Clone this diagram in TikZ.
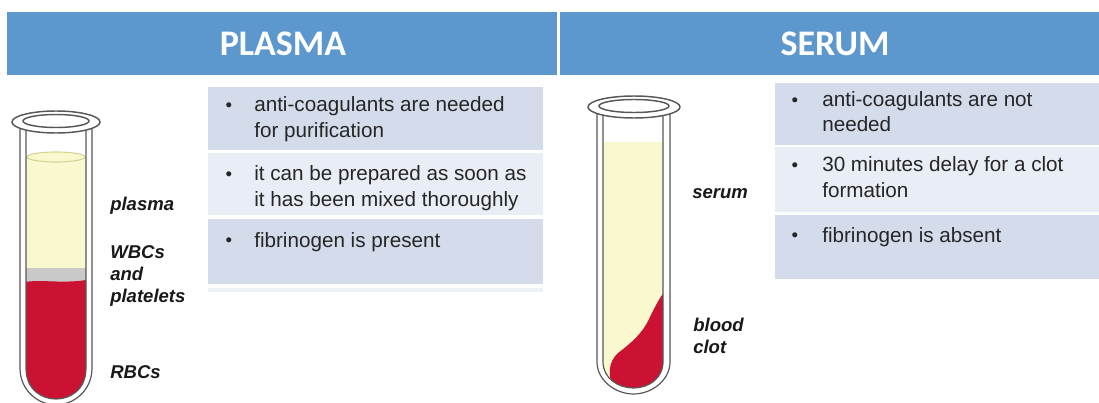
\documentclass[tikz,border=0pt]{standalone}
\usepackage{fontspec}
\setmainfont{Liberation Sans}
\newfontfamily\headfont{Carlito}
\usetikzlibrary{positioning}
\definecolor{headblue}{RGB}{92,151,205}
\definecolor{rowdark}{RGB}{212,220,236}
\definecolor{rowlight}{RGB}{233,237,245}
\definecolor{rowrule}{RGB}{238,241,247}
\definecolor{plasmacol}{RGB}{250,248,207}
\definecolor{meniscus}{RGB}{214,210,150}
\definecolor{bloodcol}{RGB}{203,18,50}
\definecolor{bandcol}{RGB}{201,201,201}
\definecolor{glasscol}{RGB}{88,88,88}
\tikzset{
headbar/.style = {fill=headblue, anchor=north west, inner sep=0pt, minimum height=47.25pt},
headtext/.style = {white, font=\headfont\bfseries\fontsize{27}{30}\selectfont},
rowbox/.style = {anchor=north west, inner sep=0pt},% fond d'une ligne
rowd/.style = {rowbox, fill=rowdark},
rowl/.style = {rowbox, fill=rowlight},
itemtext/.style = {anchor=base west, inner sep=0pt, align=left, text=black!85,
font=\fontsize{15.5}{19.2}\selectfont},% ancre sur la derniere ligne
itemdot/.style = {anchor=base, inner sep=0pt, text=black!85, font=\fontsize{14}{16}\selectfont},
layer/.style = {anchor=base west, inner sep=0pt, align=left, text=black!90,
font=\bfseries\itshape\fontsize{13.9}{16.5}\selectfont},
glass/.style = {draw=glasscol, line width=0.9pt},
rim/.style = {draw=glasscol, line width=1.1pt, fill=white, even odd rule}
}
\begin{document}
\begin{tikzpicture}[x=0.75pt, y=-0.75pt]
\useasboundingbox (0,0) rectangle (1099,403);

% titres
\node [headbar, minimum width=412.5pt] (lefthead) at (7,12) {};
\node [headbar, minimum width=404.25pt] (righthead) at (560,12) {};
\node [headtext] (plasmatitle) at (283,44) {PLASMA};
\node [headtext] (serumtitle) at (835,44) {SERUM};

% lignes du tableau, plasma
\node [rowd, minimum width=251.25pt, minimum height=47.25pt] (p1) at (208,87) {};
\node [rowl, minimum width=251.25pt, minimum height=46.5pt] (p2) at (208,153) {};
\node [rowd, minimum width=251.25pt, minimum height=48.75pt] (p3) at (208,219) {};
\node [rowbox, fill=rowrule, minimum width=251.25pt, minimum height=2.5pt] (p4) at (208,288) {};
\node [itemdot] (p1d) at (229,111) {\textbullet};
\node [itemtext] (p1t) at (254,137.5) {anti-coagulants are needed\\for purification};
\node [itemdot] (p2d) at (229,180) {\textbullet};
\node [itemtext] (p2t) at (254,206.5) {it can be prepared as soon as\\it has been mixed thoroughly};
\node [itemdot] (p3d) at (229,246) {\textbullet};
\node [itemtext] (p3t) at (254,247) {fibrinogen is present};

% lignes du tableau, serum
\node [rowd, minimum width=243pt, minimum height=46.5pt] (s1) at (775,83) {};
\node [rowl, minimum width=243pt, minimum height=48.75pt] (s2) at (775,147) {};
\node [rowd, minimum width=243pt, minimum height=48pt] (s3) at (775,215) {};
\node [itemdot] (s1d) at (795,107) {\textbullet};
\node [itemtext] (s1t) at (822,132) {anti-coagulants are not\\needed};
\node [itemdot] (s2d) at (795,171) {\textbullet};
\node [itemtext] (s2t) at (822,197) {30 minutes delay for a clot\\formation};
\node [itemdot] (s3d) at (795,241) {\textbullet};
\node [itemtext] (s3t) at (822,242) {fibrinogen is absent};

% tube 1 : sang centrifuge
\fill [white] (20,122) -- (20,368) .. controls (20,392) and (40,405) .. (56,405)
  .. controls (72,405) and (92,392) .. (92,368) -- (92,122) -- cycle;
\begin{scope}
  \clip (26,120) -- (26,368) .. controls (26,390) and (42,399) .. (56,399)
    .. controls (70,399) and (86,390) .. (86,368) -- (86,120) -- cycle;
  \fill [plasmacol] (20,157) rectangle (92,270);
  \fill [bandcol] (20,268) rectangle (92,284);
  \fill [bloodcol] (20,283) .. controls (40,278) and (62,285) .. (92,279)
    -- (92,410) -- (20,410) -- cycle;
\end{scope}
\draw [meniscus, line width=0.8pt, fill=plasmacol] (56,157) ellipse [x radius=29, y radius=5];
\draw [glass] (20,124) -- (20,368) .. controls (20,392) and (40,405) .. (56,405)
  .. controls (72,405) and (92,392) .. (92,368) -- (92,124);
\draw [glass] (26,126) -- (26,368) .. controls (26,390) and (42,399) .. (56,399)
  .. controls (70,399) and (86,390) .. (86,368) -- (86,126);
\path [rim] (56,122) ellipse [x radius=44, y radius=11] (56,121) ellipse [x radius=33, y radius=6.5];

% tube 2 : caillot
\fill [white] (597,107) -- (597,362) .. controls (597,380) and (615,394) .. (633.5,394)
  .. controls (652,394) and (670,380) .. (670,362) -- (670,107) -- cycle;
\begin{scope}
  \clip (603,110) -- (603,362) .. controls (603,378) and (618,388) .. (633.5,388)
    .. controls (649,388) and (663,378) .. (663,362) -- (663,110) -- cycle;
  \fill [plasmacol] (597,142) rectangle (670,400);
  \fill [bloodcol] (613,386) .. controls (608,376) and (608,362) .. (618,353)
    .. controls (631,343) and (642,334) .. (649,319)
    .. controls (655,307) and (659,298) .. (666,290) -- (680,290) -- (680,400) -- (613,400) -- cycle;
\end{scope}
\draw [glass] (597,109) -- (597,362) .. controls (597,380) and (615,394) .. (633.5,394)
  .. controls (652,394) and (670,380) .. (670,362) -- (670,109);
\draw [glass] (603,111) -- (603,362) .. controls (603,378) and (618,388) .. (633.5,388)
  .. controls (649,388) and (663,378) .. (663,362) -- (663,111);
\path [rim] (634,107) ellipse [x radius=46, y radius=11] (634,106) ellipse [x radius=35, y radius=6.5];

% legendes
\node [layer] (plasmalbl) at (110,210) {plasma};
\node [layer] (wbclbl) at (110,302) {WBCs\\and\\platelets};
\node [layer] (rbclbl) at (110,378) {RBCs};
\node [layer] (serumlbl) at (692,198) {serum};
\node [layer] (clotlbl) at (693,353) {blood\\clot};
\end{tikzpicture}
\end{document}
